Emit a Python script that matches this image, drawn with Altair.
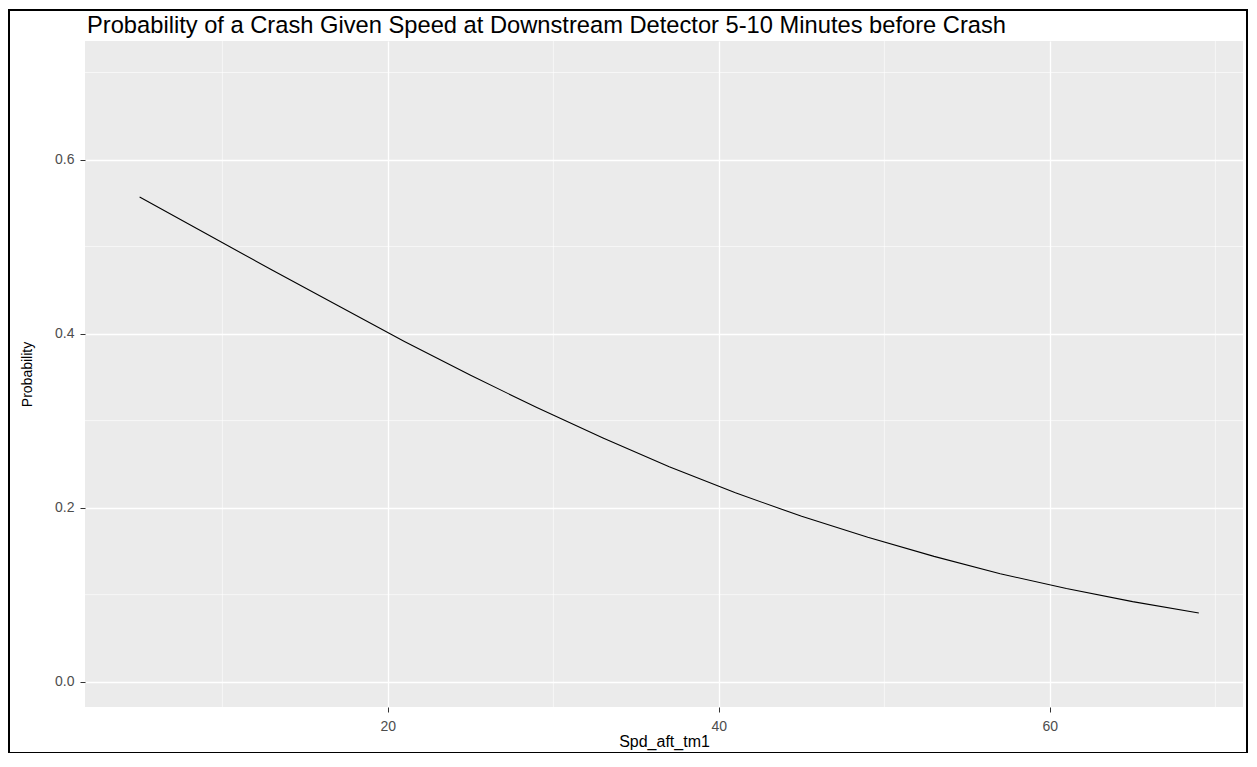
import altair as alt
import pandas as pd

# Data
speed = [5, 9, 13, 17, 21, 25, 29, 33, 37, 41, 45, 49, 53, 57, 61, 65, 69]
prob = [0.557, 0.515, 0.473, 0.432, 0.391, 0.352, 0.315, 0.280, 0.247,
        0.217, 0.190, 0.166, 0.144, 0.124, 0.107, 0.092, 0.079]

x_major = [20, 40, 60]
x_minor = [10, 30, 50, 70]
y_major = [0.0, 0.2, 0.4, 0.6]
y_minor = [0.1, 0.3, 0.5, 0.7]

title_text = "Probability of a Crash Given Speed at Downstream Detector 5-10 Minutes before Crash"

df = pd.DataFrame({"Spd_aft_tm1": speed, "Probability": prob})
xminor_df = pd.DataFrame({"Spd_aft_tm1": x_minor})
yminor_df = pd.DataFrame({"Probability": y_minor})

W, H = 1158, 666
xs = alt.Scale(domain=[1.7, 71.67], nice=False, zero=False)
ys = alt.Scale(domain=[-0.0291, 0.7362], nice=False, zero=False)

FONT = "Liberation Sans"

xaxis = alt.Axis(values=x_major, format="d", grid=True, gridColor="white", gridWidth=1.3,
                 domain=False, tickColor="#333333", tickSize=5, tickWidth=1,
                 labelColor="#4d4d4d", labelFontSize=14, labelFont=FONT, labelPadding=7,
                 titleFont=FONT, titleFontSize=16, titleFontWeight="normal", titleColor="black",
                 titlePadding=0)
yaxis = alt.Axis(values=y_major, format=".1f", grid=True, gridColor="white", gridWidth=1.3,
                 domain=False, tickColor="#333333", tickSize=5, tickWidth=1,
                 labelColor="#4d4d4d", labelFontSize=14, labelFont=FONT, labelPadding=6,
                 titleFont=FONT, titleFontSize=14, titleFontWeight="normal",
                 titleColor="black", titlePadding=20)

line = alt.Chart(df).mark_line(color="black", strokeWidth=1.1).encode(
    x=alt.X("Spd_aft_tm1:Q", scale=xs, axis=xaxis, title="Spd_aft_tm1"),
    y=alt.Y("Probability:Q", scale=ys, axis=yaxis, title="Probability"))

vminor = alt.Chart(xminor_df).mark_rule(color="white", strokeWidth=0.6).encode(
    x=alt.X("Spd_aft_tm1:Q", scale=xs, axis=xaxis, title="Spd_aft_tm1"))
hminor = alt.Chart(yminor_df).mark_rule(color="white", strokeWidth=0.6).encode(
    y=alt.Y("Probability:Q", scale=ys, axis=yaxis, title="Probability"))

title = alt.Chart(pd.DataFrame({"t": [title_text]})).mark_text(
    align="left", baseline="alphabetic", font=FONT, fontSize=23.7, color="black").encode(
    text="t:N", x=alt.value(2), y=alt.value(-8))

border = alt.Chart(pd.DataFrame({"a": [0]})).mark_rect(
    filled=False, stroke="black", strokeWidth=2, clip=False).encode(
    x=alt.value(-76), x2=alt.value(1162), y=alt.value(-31), y2=alt.value(712))

chart = alt.layer(vminor, hminor, line, title, border).properties(
    width=W, height=H,
    padding={"left": 77, "top": 33, "right": 6, "bottom": 46},
    autosize=alt.AutoSizeParams(type="none"),
).configure(background="white").configure_view(fill="#EBEBEB", stroke=None)

chart.save("out.html", embed_options={"renderer": "svg", "actions": False})
